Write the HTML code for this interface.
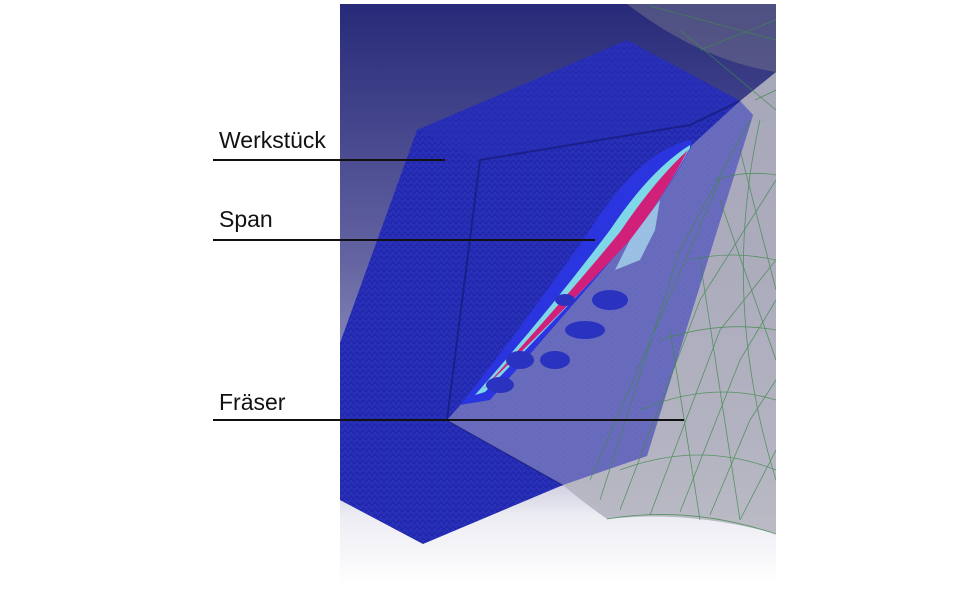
<!DOCTYPE html>
<html><head><meta charset="utf-8"><style>
html,body{margin:0;padding:0;background:#fff;width:980px;height:595px;overflow:hidden}
svg{display:block}
text{font-family:"Liberation Sans",sans-serif;font-size:23px;fill:#111}
</style></head><body>
<svg width="980" height="595" viewBox="0 0 980 595" xmlns="http://www.w3.org/2000/svg">
<defs>
<linearGradient id="bg" x1="0" y1="0" x2="0" y2="1">
<stop offset="0" stop-color="#272a78"/>
<stop offset="0.45" stop-color="#6565a3"/>
<stop offset="0.75" stop-color="#a7a7c8"/>
<stop offset="0.88" stop-color="#ececf3"/>
<stop offset="1" stop-color="#ffffff"/>
</linearGradient>
<pattern id="mesh" width="6" height="6" patternUnits="userSpaceOnUse">
<rect width="6" height="6" fill="#2228ad"/>
<path d="M0 6L3 0L6 6M0 3H6" stroke="#3038c4" stroke-width="0.6" fill="none"/>
</pattern>
<clipPath id="frame"><rect x="340" y="4" width="436" height="581"/></clipPath>
</defs>
<rect x="340" y="4" width="436" height="581" fill="url(#bg)"/>
<g clip-path="url(#frame)">
<path d="M627 4 Q700 60 776 72 L776 4 Z" fill="#6a6a8a" opacity="0.6"/>
<path d="M417 130 L627 40 L740 101 L753 115 L647 456 L563 485 L423 544 L340 500 L340 343 Z" fill="url(#mesh)"/>
<path d="M417 130 L627 40 L740 101 L690 125 L480 160 Z" fill="#2a30b8" opacity="0.5"/>
<path d="M480 160 L690 125 L740 101" stroke="#1a1f8a" stroke-width="2" fill="none"/>
<path d="M480 160 L447 420 L563 485" stroke="#1a1f8a" stroke-width="2" fill="none"/>
<path d="M740 101 Q760 85 776 72 L776 534 Q690 510 607 519 Q580 500 563 485 L647 456 L753 115 Z" fill="#b4b4c0" opacity="0.9"/>
<path d="M740 101 L753 115 L647 456 L563 485 L447 420 L692 145 Z" fill="#8484c0" opacity="0.7"/>
<path d="M692 140 Q640 150 590 230 Q520 330 460 405 L490 400 Q560 320 620 250 Q670 190 692 145 Z" fill="#2a35e0"/>
<path d="M690 145 Q650 170 610 230 Q550 310 475 395 L485 392 Q555 320 625 245 Q665 195 690 148 Z" fill="#7fd8e8"/>
<path d="M688 150 Q655 180 620 232 Q560 305 482 390 Q565 310 630 240 Q665 195 688 150 Z" fill="#d0207a"/>
<path d="M660 200 L630 240 L615 270 L640 260 L655 230 Z" fill="#a6d6ee" opacity="0.8"/>
<g fill="#2a32c0">
<ellipse cx="610" cy="300" rx="18" ry="10"/><ellipse cx="585" cy="330" rx="20" ry="9"/>
<ellipse cx="555" cy="360" rx="15" ry="9"/><ellipse cx="520" cy="360" rx="14" ry="9"/>
<ellipse cx="500" cy="385" rx="14" ry="8"/><ellipse cx="565" cy="300" rx="10" ry="6"/>
</g>
<g stroke="#3f8a4a" stroke-width="0.8" fill="none" opacity="0.8">
<path d="M607 519 Q690 505 776 534"/>
<path d="M620 470 Q700 440 776 470"/>
<path d="M640 410 Q710 380 776 400"/>
<path d="M660 340 Q720 320 776 330"/>
<path d="M690 260 Q730 250 776 260"/>
<path d="M715 180 Q745 170 776 175"/>
<path d="M650 6 L776 40 M680 30 L776 110 M700 50 L776 20"/>
<path d="M620 510 L700 300 L776 180 M650 515 L720 330 L776 260 M680 512 L740 360 L776 300 M710 515 L750 420 L776 380 M740 520 L776 450"/>
<path d="M600 500 L680 250 L750 120 M590 480 L720 180 M740 150 L776 290 M720 200 L776 360 M700 260 L740 520 M670 330 L700 520"/>
<path d="M760 120 Q720 300 776 480 M755 100 L776 90"/>
</g>
</g>
<text x="219" y="148">Werkstück</text>
<line x1="213" y1="160" x2="445" y2="160" stroke="#111" stroke-width="2"/>
<text x="219" y="227">Span</text>
<line x1="213" y1="240" x2="595" y2="240" stroke="#111" stroke-width="2"/>
<text x="219" y="410">Fräser</text>
<line x1="213" y1="420" x2="684" y2="420" stroke="#111" stroke-width="2"/>
</svg>
</body></html>
